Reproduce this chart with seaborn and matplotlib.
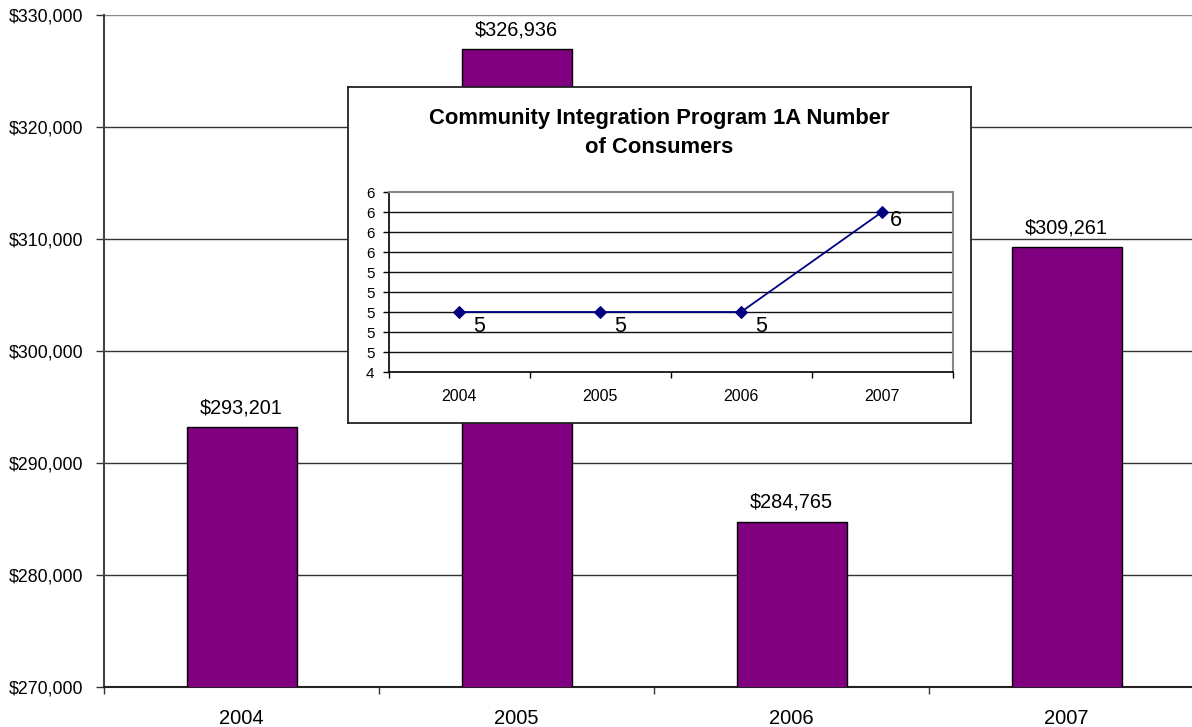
import matplotlib
matplotlib.use("Agg")
import matplotlib.pyplot as plt
import numpy as np
import pandas as pd
import seaborn as sns

# Program spending by fiscal year
years = ["2004", "2005", "2006", "2007"]
spending = [293201, 326936, 284765, 309261]

# Number of consumers served
consumers = [5, 5, 5, 6]

sns.set_theme(style="white")
plt.rcParams["font.family"] = ["Liberation Sans", "DejaVu Sans"]
plt.rcParams["text.color"] = "black"
plt.rcParams["xtick.color"] = "black"
plt.rcParams["ytick.color"] = "black"

W, H = 1192, 727
fig = plt.figure(figsize=(W / 100, H / 100), dpi=100)
fig.patch.set_facecolor("white")


def px_rect(x0, y0, x1, y1):
    return [x0 / W, 1 - y1 / H, (x1 - x0) / W, (y1 - y0) / H]


# ---- main bar chart ----
ax = fig.add_axes(px_rect(104, 15, 1192, 687))
df = pd.DataFrame({"year": years, "spending": spending})
sns.barplot(data=df, x="year", y="spending", color="#800080", width=0.4,
            edgecolor="black", linewidth=1.0, saturation=1, ax=ax, zorder=3)
ax.set_ylim(270000, 330000)
ax.set_xlim(-0.5, 3.456)
yt = np.arange(270000, 330001, 10000)
ax.set_yticks(yt)
ax.set_yticklabels([f"${v:,.0f}" for v in yt], fontsize=12.8)
ax.set_xticks(range(len(years)))
ax.set_xticklabels(years, fontsize=14.5)
ax.set_xticks(np.arange(-0.5, 3.5, 1.0), minor=True)
ax.tick_params(axis="x", which="major", length=0, pad=16)
ax.tick_params(axis="x", which="minor", length=5, width=1, color="#333333",
               direction="out", bottom=True)
ax.tick_params(axis="y", length=6, width=1, color="#333333", direction="out",
               left=True, pad=9)
for v in yt[1:]:
    ax.axhline(v, color="#333333" if v < 330000 else "#888888", lw=1, zorder=1)
ax.set_xlabel("")
ax.set_ylabel("")
for s in ["top", "right"]:
    ax.spines[s].set_visible(False)
ax.spines["left"].set_color("#444444")
ax.spines["left"].set_linewidth(1.5)
ax.spines["bottom"].set_color("#222222")
ax.spines["bottom"].set_linewidth(1.5)
for i, v in enumerate(spending):
    ax.annotate(f"${v:,.0f}", (i, v), xytext=(0, 7), textcoords="offset points",
                ha="center", va="bottom", fontsize=14.3)

# ---- inset frame with title ----
box = fig.add_axes(px_rect(348, 87, 971, 423))
box.set_facecolor("white")
box.set_xticks([])
box.set_yticks([])
for s in box.spines.values():
    s.set_color("#222222")
    s.set_linewidth(1.3)
box.text(0.5, 0.864, "Community Integration Program 1A Number\nof Consumers",
         transform=box.transAxes, ha="center", va="center", fontsize=15.8,
         fontweight="bold", linespacing=1.5)

# ---- inset line chart ----
ins = fig.add_axes(px_rect(388.5, 192, 952.5, 372))
ins.set_facecolor("white")
xpos = np.arange(len(years))
sns.lineplot(x=xpos, y=consumers, ax=ins, color="#000080", lw=1.3,
             marker="D", markersize=6, markeredgecolor="#000080", zorder=4)
ins.set_xlim(-0.5, 3.5)
ins.set_ylim(4.4, 6.2)
it = np.arange(4.4, 6.21, 0.2)
ins.set_yticks(it)
ins.set_yticklabels([f"{v:.0f}" for v in it], fontsize=11)
for v in it[1:-1]:
    ins.axhline(v, color="#111111", lw=1, zorder=1)
ins.set_xticks(xpos)
ins.set_xticklabels(years, fontsize=11.5)
ins.set_xticks(np.arange(-0.5, 3.6, 1.0), minor=True)
ins.tick_params(axis="x", which="major", length=0, pad=12)
ins.tick_params(axis="x", which="minor", length=4, width=1, color="black",
                direction="out", bottom=True)
ins.tick_params(axis="y", length=4, width=1, color="black", direction="out",
                left=True, pad=6)
for s in ["top", "right"]:
    ins.spines[s].set_color("#888888")
    ins.spines[s].set_linewidth(1.5)
ins.spines["left"].set_color("black")
ins.spines["bottom"].set_color("black")
ins.spines["left"].set_linewidth(1.2)
ins.spines["bottom"].set_linewidth(1.2)
label_offsets = [(10, -3), (10, -3), (10, -3), (6, 1.5)]
for i, v in enumerate(consumers):
    ins.annotate(f"{v}", (i, v), xytext=label_offsets[i], textcoords="offset points",
                 ha="left", va="top", fontsize=15.5)

fig.savefig("out.png", dpi=100, facecolor="white")
